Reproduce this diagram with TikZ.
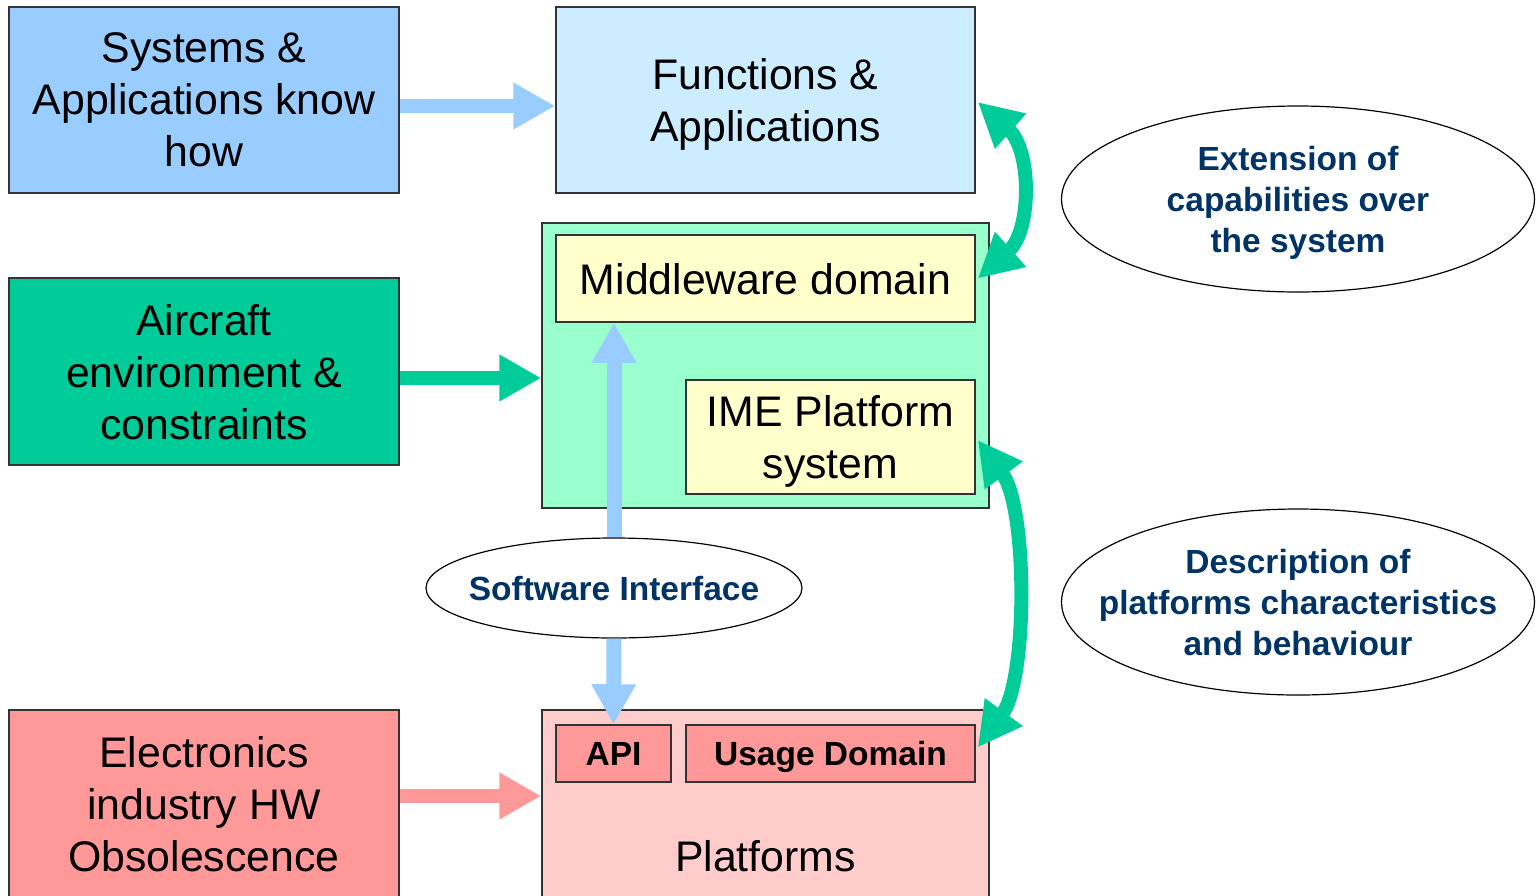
\documentclass[tikz,border=0pt]{standalone}
\usepackage{fontspec}
\setmainfont{Liberation Sans}
\usetikzlibrary{arrows.meta,shapes.geometric}

\definecolor{skyblue}{HTML}{99CCFF}
\definecolor{paleblue}{HTML}{CCECFF}
\definecolor{seagreen}{HTML}{00CC99}
\definecolor{mintgreen}{HTML}{99FFCC}
\definecolor{creamy}{HTML}{FFFFCC}
\definecolor{salmon}{HTML}{FF9999}
\definecolor{blush}{HTML}{FFCCCC}
\definecolor{navy}{HTML}{003366}
\definecolor{edgegray}{HTML}{333333}

\tikzset{
  box/.style={draw=edgegray, line width=0.75pt, inner sep=0pt, align=center,
    text depth=0pt, font=\fontsize{21.4}{26}\selectfont},
  tag/.style={draw=edgegray, line width=0.75pt, inner sep=0pt, align=center,
    text depth=0pt, font=\bfseries\fontsize{16.75}{20.5}\selectfont},
  bubble/.style={ellipse, draw=black, line width=0.6pt, fill=white, inner sep=0pt},
  bubbletext/.style={align=center, text=navy, inner sep=0pt, text depth=0pt,
    font=\bfseries\fontsize{16.75}{20.5}\selectfont},
  blockarrow/.style={line width=7pt, -{Triangle[length=21pt,width=22pt]}},
  twinarrow/.style={line width=7pt, {Triangle[length=22pt,width=22pt]}-{Triangle[length=22pt,width=22pt]}},
}

\begin{document}
\begin{tikzpicture}[x=0.5pt, y=-0.5pt]
\useasboundingbox (0,0) rectangle (1536,895);
\clip (0,0) rectangle (1536,895);

% left column: drivers
\node[box, fill=skyblue, minimum width=195pt, minimum height=93pt] (sys) at (204,100)
  {Systems \&\\Applications know\\how};
\node[box, fill=seagreen, minimum width=195pt, minimum height=93.5pt] (air) at (204,371.5)
  {Aircraft\\environment \&\\constraints};
\node[box, fill=salmon, minimum width=195pt, minimum height=94pt] (elec) at (204,804)
  {Electronics\\industry HW\\Obsolescence};

% centre column: layered architecture
\node[box, fill=paleblue, minimum width=209.5pt, minimum height=93pt] (func) at (765.5,100)
  {Functions \&\\Applications};
\node[box, fill=mintgreen, minimum width=223.5pt, minimum height=142.5pt] (env) at (765.5,365.5) {};
\node[box, fill=creamy, minimum width=209.5pt, minimum height=43.5pt] (mid) at (765.5,278.5)
  {Middleware domain};
\node[box, fill=creamy, minimum width=144.5pt, minimum height=57pt] (ime) at (830.5,437)
  {IME Platform\\system};
\node[box, fill=blush, minimum width=223.5pt, minimum height=94pt] (plat) at (765.5,804) {};
\node[box, draw=none] (platlbl) at (765.5,856) {Platforms};
\node[tag, fill=salmon, minimum width=57.5pt, minimum height=28.5pt] (api) at (613.5,753.5) {API};
\node[tag, fill=salmon, minimum width=144.5pt, minimum height=28.5pt] (usage) at (830.5,753.5) {Usage Domain};

% interface bubbles
\node[bubble, minimum width=188pt, minimum height=50pt] (si) at (614,588) {};
\node[bubbletext] (sitext) at (si) {Software Interface};
\node[bubble, minimum width=236.5pt, minimum height=93pt] (ext) at (1298,199) {};
\node[bubbletext] (exttext) at (ext) {Extension of\\capabilities over\\the system};
\node[bubble, minimum width=236.5pt, minimum height=93pt] (desc) at (1298,602) {};
\node[bubbletext] (desctext) at (desc) {Description of\\platforms characteristics\\and behaviour};

% driver arrows
\draw[blockarrow, skyblue] ([yshift=-3pt]sys.east) -- ([yshift=-3pt]sys.east -| func.west);
\draw[blockarrow, seagreen] ([yshift=-3.25pt]air.east) -- ([yshift=-3.25pt]air.east -| env.west);
\draw[blockarrow, salmon] ([yshift=4pt]elec.east) -- ([yshift=4pt]elec.east -| plat.west);

% software interface arrows
\draw[line width=7.5pt, skyblue, -{Triangle[length=20pt,width=21pt]}] (si.north) -- (si.north |- mid.south);
\draw[line width=7.5pt, skyblue, -{Triangle[length=20pt,width=21pt]}] (si.south) -- (api.north);

% curved double arrows
\draw[twinarrow, seagreen] ([xshift=1pt,yshift=-1pt]func.east) .. controls +(54,48) and +(54,-48) .. ([xshift=1pt]mid.east);
\draw[twinarrow, seagreen] ([xshift=1pt,yshift=-1.5pt]ime.east) .. controls +(50,68) and +(50,-68) .. ([xshift=1pt,yshift=3pt]usage.east);
\end{tikzpicture}
\end{document}
